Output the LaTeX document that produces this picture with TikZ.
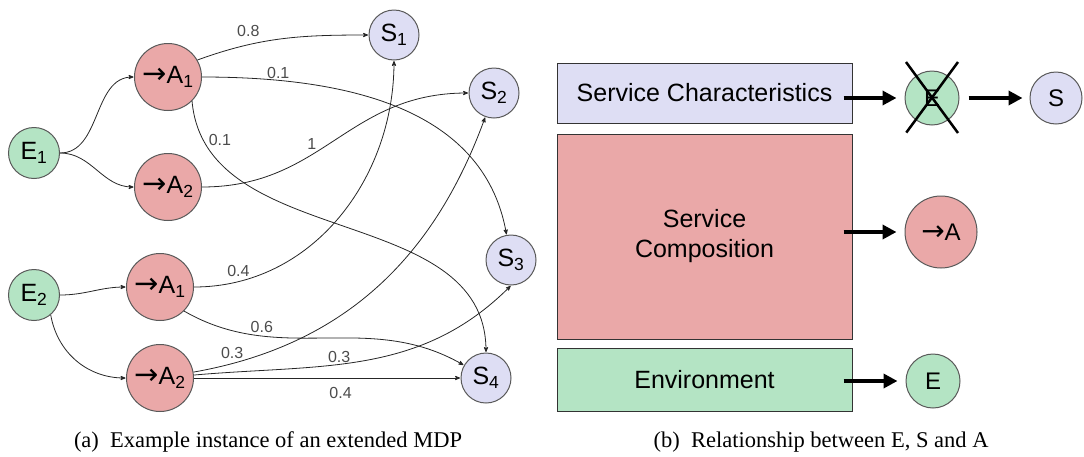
\documentclass[tikz,border=0pt]{standalone}
\usepackage{fontspec}
\setmainfont{Liberation Serif}
\setsansfont{Liberation Sans}
\newfontfamily\arrowfont{DejaVu Sans}
\usetikzlibrary{arrows,arrows.meta}
\definecolor{envgreen}{RGB}{180,228,196}
\definecolor{actred}{RGB}{234,168,168}
\definecolor{stblue}{RGB}{222,222,244}
\newcommand{\act}[1]{{\arrowfont\fontsize{29}{29}\selectfont →}A\textsubscript{#1}}

\begin{document}
\begin{tikzpicture}[x=1pt,y=1pt,>=stealth',shorten >=0.5pt,auto,
  envnode/.style={circle,draw=black!65,line width=1pt,fill=envgreen,inner sep=0pt,
    minimum size=51pt,font=\fontsize{25}{25}\sffamily},
  actnode/.style={envnode,fill=actred,minimum size=67pt},
  stnode/.style={envnode,fill=stblue,minimum size=50pt},
  prob/.style={font=\fontsize{16}{16}\sffamily,text=black!70,inner sep=1pt},
  link/.style={->,line width=0.8pt,black!85},
  box/.style={rectangle,draw=black!80,line width=1pt,minimum width=295pt,
    font=\fontsize{25}{30}\sffamily,align=center},
  bigarrow/.style={-{Triangle[length=14pt,width=14pt]},line width=3.5pt,shorten >=0pt},
  caption/.style={font=\fontsize{22.5}{25}\rmfamily}]
  \useasboundingbox (0,0) rectangle (1084,-456);

  % (a) extended MDP
  \node[envnode] (E1) at (34,-153)  {E\textsubscript{1}};
  \node[actnode] (A1) at (168,-77)  {\act{1}};
  \node[actnode] (A2) at (168,-187) {\act{2}};
  \node[envnode] (E2) at (34,-295)  {E\textsubscript{2}};
  \node[actnode] (B1) at (160,-287) {\act{1}};
  \node[actnode] (B2) at (160,-378) {\act{2}};
  \node[stnode]  (S1) at (394,-35)  {S\textsubscript{1}};
  \node[stnode]  (S2) at (494,-93)  {S\textsubscript{2}};
  \node[stnode]  (S3) at (511,-260) {S\textsubscript{3}};
  \node[stnode]  (S4) at (486,-378) {S\textsubscript{4}};

  \path[link]
    (E1) edge [out=0,in=180]                (A1)
         edge [out=0,in=180]                (A2)
    (E2) edge [out=0,in=180]                (B1)
    (E2.-50) edge [out=-80,in=180]          (B2)
    (A1.30) edge [out=20,in=180]
         node[prob,pos=0.37,yshift=4pt] {0.8} (S1)
    (A1) edge [out=0,in=100]
         node[prob,pos=0.16,inner sep=0pt] {0.1} (S3)
    (A1.-45) edge [out=-85,in=90]
         node[prob,pos=0.12] {0.1}          (S4)
    (A2) edge [out=0,in=180,looseness=1.1]
         node[prob,pos=0.42] {1}            (S2)
    (B1) edge [out=0,in=-90]
         node[prob,pos=0.17] {0.4}          (S1)
    (B1.-45) edge [out=-30,in=150]
         node[prob,pos=0.23] {0.6}          (S4)
    (B2) edge [out=10,in=-110]
         node[prob,pos=0.12] {0.3}          (S2)
    (B2) edge [out=5,in=-135]
         node[prob,pos=0.45,inner sep=0pt] {0.3} (S3.-90)
    (B2) edge
         node[prob,swap,pos=0.55,yshift=-8pt] {0.4} (S4);

  % (b) relationship between E, S and A
  \node[box,fill=stblue,minimum height=60pt]  (chars) at (704.5,-93)   {Service Characteristics};
  \node[box,fill=actred,minimum height=205pt] (comp)  at (704.5,-236.5) {Service\\Composition};
  \node[box,fill=envgreen,minimum height=63pt] (envb) at (704.5,-379.5) {Environment};
  \node[envnode,minimum size=54pt,font=\fontsize{24}{24}\sffamily] (Ex) at (932,-98)  {E};
  \node[stnode,minimum size=52pt,font=\fontsize{24}{24}\sffamily]  (S)  at (1056,-98) {S};
  \node[actnode,minimum size=72pt,font=\fontsize{24}{24}\sffamily] (A)  at (941,-232)
    {{\arrowfont\fontsize{28}{28}\selectfont →}A};
  \node[envnode,minimum size=54pt,font=\fontsize{24}{24}\sffamily] (E)  at (933,-381) {E};

  \draw[line width=2.5pt] (Ex.center) ++(-26,36) -- ++(52,-71)
                          (Ex.center) ++(26,36) -- ++(-52,-71);
  \draw[bigarrow] ([xshift=-9pt]chars.east |- Ex) -- ([xshift=-8pt]Ex.west);
  \draw[bigarrow] ([xshift=9pt]Ex.east) -- ([xshift=-7pt]S.west);
  \draw[bigarrow] ([xshift=-9pt]comp.east |- A) -- ([xshift=-8pt]A.west);
  \draw[bigarrow] ([xshift=-9pt]envb.east |- E) -- ([xshift=-8pt]E.west);

  \node[caption] (capa) at (268,-442) {(a)\hspace{0.5em}Example instance of an extended MDP};
  \node[caption] (capb) at (821,-442) {(b)\hspace{0.5em}Relationship between E, S and A};
\end{tikzpicture}
\end{document}
